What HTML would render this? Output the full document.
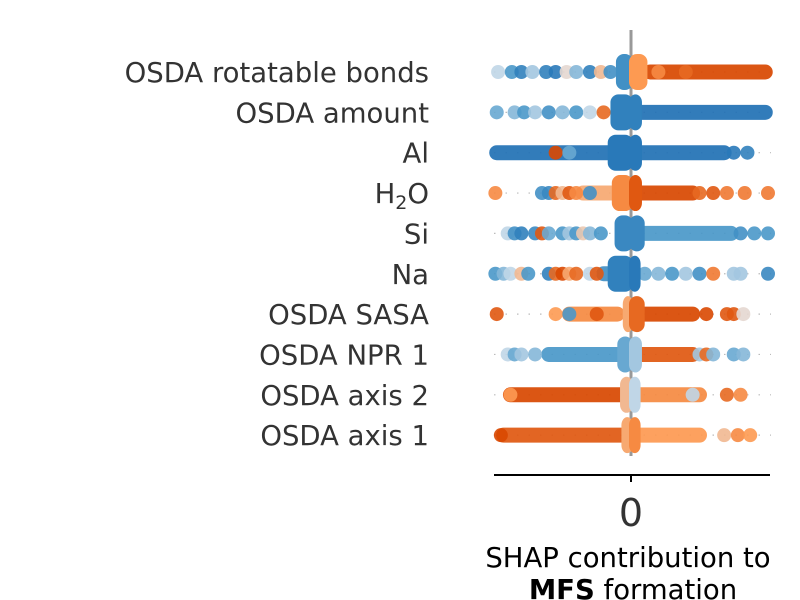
<!DOCTYPE html>
<html><head><meta charset="utf-8"><style>
body{margin:0;background:#fff}
svg{display:block;font-family:"DejaVu Sans","Liberation Sans",sans-serif}
</style></head><body>
<svg id="chart" width="800" height="600" viewBox="0 0 800 600">
<g id="labels"></g>
<line x1="631" y1="30" x2="631" y2="456" stroke="#999" stroke-width="3"/>
<g id="rows"></g>
<line x1="494" y1="475" x2="770" y2="475" stroke="#000" stroke-width="2"/>
<line x1="631" y1="475" x2="631" y2="482" stroke="#000" stroke-width="2"/>
<text x="631" y="526" text-anchor="middle" font-size="38" fill="#333">0</text>
<text x="628" y="567" text-anchor="middle" font-size="27.5" fill="#000">SHAP contribution to</text>
<text x="633" y="599" text-anchor="middle" font-size="27.5" fill="#000"><tspan font-weight="bold">MFS</tspan> formation</text>
</svg>
<script>
const features = ["OSDA rotatable bonds","OSDA amount","Al","H2O","Si","Na","OSDA SASA","OSDA NPR 1","OSDA axis 2","OSDA axis 1"];
const blobs = [[-0.11,0.12,-0.6,0.5],[-0.15,0.08,-0.8,-0.8],[-0.17,0.08,-0.9,-0.9],[-0.14,0.08,0.6,0.9],[-0.12,0.1,-0.7,-0.7],[-0.17,0.07,-0.8,-0.9],[-0.06,0.1,0.4,0.8],[-0.1,0.08,-0.4,-0.2],[-0.08,0.07,0.3,-0.1],[-0.07,0.07,0.4,0.6]];
const bands = [
 [[0.14,0.98,1]],
 [[0.07,0.98,-1]],
 [[-0.98,-0.15,-1],[0.07,0.68,-1]],
 [[0.07,0.45,1],[-0.35,-0.14,0.4]],
 [[0.1,0.73,-0.5]],
 [[-0.2,-0.05,-0.6]],
 [[0.1,0.45,1],[-0.45,-0.1,0.6]],
 [[0.08,0.45,0.9],[-0.6,-0.1,-0.5]],
 [[-0.88,-0.05,1],[0.05,0.5,0.6]],
 [[-0.93,-0.05,0.9],[0.05,0.5,0.5]]
];
const dots = [
 [[-0.97,-0.1],[-0.87,-0.5],[-0.8,-0.8],[-0.72,-0.2],[-0.62,-0.8],[-0.55,-0.9],[-0.47,0.1],[-0.4,-0.3],[-0.3,-0.8],[-0.22,0.3],[-0.15,-0.6],[0.2,0.6],[0.4,0.8]],
 [[-0.98,-0.4],[-0.85,-0.3],[-0.78,-0.5],[-0.7,-0.2],[-0.6,-0.6],[-0.5,-0.3],[-0.4,-0.5],[-0.3,-0.1],[-0.2,0.8]],
 [[-0.55,1],[-0.45,-0.4],[0.75,-0.9],[0.85,-0.8]],
 [[-0.99,0.6],[-0.65,-0.6],[-0.6,-0.7],[-0.55,0.8],[-0.5,0.3],[-0.45,0.9],[-0.4,0.6],[-0.3,-0.6],[0.5,0.8],[0.6,0.9],[0.7,0.7],[0.83,0.7],[1.0,0.7]],
 [[-0.9,-0.1],[-0.85,-0.6],[-0.8,-0.8],[-0.7,-0.7],[-0.65,0.9],[-0.6,-0.4],[-0.5,-0.5],[-0.45,-0.2],[-0.4,-0.5],[-0.35,0.2],[-0.3,-0.3],[-0.22,-0.5],[0.8,-0.6],[0.9,-0.5],[1.0,-0.5]],
 [[-0.99,-0.5],[-0.93,-0.3],[-0.88,-0.1],[-0.8,0.3],[-0.75,-0.5],[-0.6,-0.8],[-0.55,0.8],[-0.5,1],[-0.45,0.4],[-0.4,0.8],[-0.3,-0.1],[-0.25,0.9],[0.1,-0.4],[0.2,-0.3],[0.3,-0.5],[0.4,-0.2],[0.5,-0.6],[0.6,0.7],[0.75,-0.2],[0.8,-0.2],[1.0,-0.7]],
 [[-0.98,0.9],[-0.55,0.5],[-0.45,-0.5],[-0.25,0.9],[0.55,1],[0.7,0.9],[0.75,0.9],[0.82,0.1]],
 [[-0.9,-0.1],[-0.85,-0.4],[-0.8,-0.2],[-0.7,-0.3],[0.5,-0.2],[0.55,0.8],[0.6,-0.3],[0.75,-0.4],[0.82,-0.3]],
 [[-0.88,0.5],[0.45,-0.1],[0.7,0.8],[0.8,0.6]],
 [[-0.95,1],[0.68,0.3],[0.78,0.6],[0.87,0.5]]
];
const xDomain = [-1, 1];
const NS = "http://www.w3.org/2000/svg";
function xs(v){return 631 + v*137;}
function ys(i){return 72 + i*40.35;}
function col(c){
  const stops=[[-1,[33,113,181]],[-0.5,[74,152,201]],[0,[222,230,239]],[0.5,[253,154,82]],[1,[217,72,1]]];
  for(let k=0;k<stops.length-1;k++){const a=stops[k],b=stops[k+1];
    if(c<=b[0]){const t=(c-a[0])/(b[0]-a[0]);return "rgb("+a[1].map((v,j)=>Math.round(v+(b[1][j]-v)*t)).join(",")+")";}}
  return "rgb(217,72,1)";
}
function mk(tag,attrs,parent){const e=document.createElementNS(NS,tag);for(const k in attrs)e.setAttribute(k,attrs[k]);parent.appendChild(e);return e;}
const rowsG=document.getElementById("rows"), labG=document.getElementById("labels");
features.forEach((f,i)=>{
  const y=ys(i);
  const t=mk("text",{x:429,y:y+10,"text-anchor":"end","font-size":27.5,fill:"#333"},labG);
  
  
  if(f==="H2O"){t.innerHTML='H<tspan font-size="19" dy="6">2</tspan><tspan dy="-6">O</tspan>';}else t.textContent=f;
  const g=mk("g",{},rowsG);
  
  
  const gl=mk("line",{x1:xs(xDomain[0]),x2:xs(xDomain[1])+3,y1:y,y2:y,stroke:"#bbb","stroke-width":1.2,"stroke-dasharray":"1.5 10"},g);
  
  
  bands[i].forEach(b=>{
    const l=mk("line",{x1:xs(b[0]),x2:xs(b[1]),y1:y,y2:y,stroke:col(b[2]),"stroke-width":15,"stroke-linecap":"round",opacity:0.92},g);
    
    
  });
  dots[i].forEach(d=>{
    const c=mk("circle",{cx:xs(d[0]),cy:y,r:7,fill:col(d[1]),opacity:0.9},g);
    
    
  });
  const bl=blobs[i], x0=xs(bl[0]), x1=xs(bl[1]), xm=xs(0);
  const r1=mk("rect",{x:x0,y:y-18,width:xm-x0+2,height:36,rx:8,fill:col(bl[2])},g);
  
  
  const r2=mk("rect",{x:xm-2,y:y-18,width:x1-xm+2,height:36,rx:8,fill:col(bl[3])},g);
  
  
});
</script>
</body></html>
